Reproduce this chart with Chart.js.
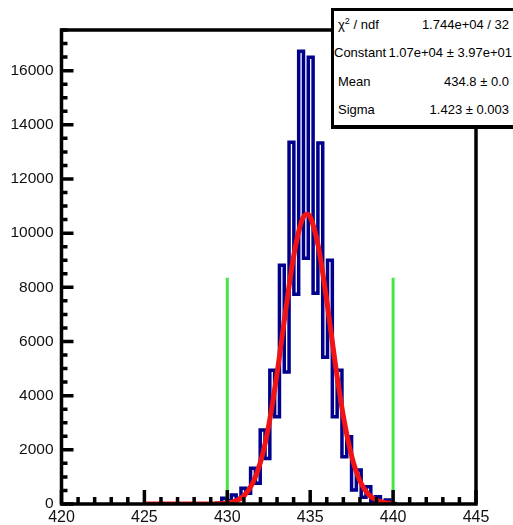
<!DOCTYPE html>
<html>
<head>
<meta charset="utf-8">
<script src="https://cdn.jsdelivr.net/npm/chart.js@4.4.1/dist/chart.umd.min.js"></script>
<style>
html,body{margin:0;padding:0;background:#fff;}
#wrap{position:relative;width:513px;height:525px;overflow:hidden;background:#fff;}
#c{position:absolute;left:0;top:0;}
#stats{position:absolute;left:331px;top:8px;width:192px;height:121px;box-sizing:border-box;border:3px solid #000;border-bottom-width:4px;background:#fff;font-family:"Liberation Sans",Arial,Helvetica,sans-serif;font-size:13px;color:#000;}
.row{position:absolute;left:4px;right:11px;height:20px;line-height:20px;display:flex;justify-content:space-between;white-space:nowrap;}
.row.tight{left:0px;right:8px;}
</style>
</head>
<body>
<div id="wrap">
<canvas id="c" width="513" height="525"></canvas>
<div id="stats"></div>
</div>
<script>
// ---- data ----
const xTickValues = [420, 425, 430, 435, 440, 445];
const yTickValues = [0, 2000, 4000, 6000, 8000, 10000, 12000, 14000, 16000];

// histogram bin centres and contents
const binCenters = [429.23, 429.52, 429.81, 430.10, 430.39, 430.68, 430.97, 431.26, 431.55, 431.84,
  432.13, 432.42, 432.71, 433.00, 433.29, 433.58, 433.87, 434.16, 434.45, 434.74,
  435.03, 435.32, 435.61, 435.90, 436.19, 436.48, 436.77, 437.06, 437.35, 437.64,
  437.93, 438.22, 438.51, 438.80, 439.09, 439.38, 439.67, 439.96, 440.25];
const binCounts = [0, 30, 210, 120, 332, 200, 578, 400, 1316, 763,
  2728, 1684, 4940, 3220, 8811, 4878, 13357, 7740, 16711, 9070,
  16490, 7780, 13330, 5420, 8995, 3220, 4940, 1745, 2482, 516,
  1253, 250, 640, 100, 270, 60, 150, 20, 0];

// gaussian fit curve
const fitX = [425, 426, 427, 428, 428.5, 429, 429.5, 430, 430.5, 431, 431.5, 432, 432.5, 433, 433.5,
  434, 434.5, 434.8, 435, 435.5, 436, 436.5, 437, 437.5, 438, 438.5, 439, 439.5, 440];
const fitY = [0, 0, 0, 0, 1, 3, 10, 40, 110, 300, 730, 1540, 2900, 4810, 7050,
  9140, 10470, 10700, 10600, 9480, 7500, 5240, 3240, 1770, 850, 360, 140, 50, 15];

// green window markers
const markerX = [430, 440];
const markerHeight = [8350, 8350];

// stats box
const statLabels = ['χ<sup style="font-size:9px;line-height:0">2</sup> / ndf', 'Constant', 'Mean', 'Sigma'];
const statValues = ['1.744e+04 / 32', '1.07e+04 ± 3.97e+01', '434.8 ± 0.0', '1.423 ± 0.003'];

// ---- stats box ----
const rowTops = [4, 32, 61, 89];
const stats = document.getElementById('stats');
statLabels.forEach((lab, i) => {
  const r = document.createElement('div');
  r.className = 'row' + (i === 1 ? ' tight' : '');
  r.style.top = rowTops[i] + 'px';
  r.innerHTML = '<span>' + lab + '</span><span>' + statValues[i] + '</span>';
  stats.appendChild(r);
});

// ---- frame / inward ticks plugin ----
const framePlugin = {
  id: 'rootFrame',
  afterDatasetsDraw(chart) {
    const ctx = chart.ctx, a = chart.chartArea, xs = chart.scales.x, ys = chart.scales.y;
    ctx.save();
    ctx.strokeStyle = '#000';
    ctx.lineWidth = 3.5;
    ctx.lineCap = 'butt';
    ctx.beginPath();
    for (let v = 0; v <= ys.max; v += 500) {
      const py = ys.getPixelForValue(v);
      const len = (v % 2000 === 0) ? 12 : 6;
      ctx.moveTo(a.left, py);
      ctx.lineTo(a.left + len, py);
    }
    for (let v = xs.min; v <= xs.max; v += 1) {
      const px = xs.getPixelForValue(v);
      const len = (v % 5 === 0) ? 14 : 7;
      ctx.moveTo(px, a.bottom);
      ctx.lineTo(px, a.bottom - len);
    }
    ctx.stroke();
    ctx.strokeRect(a.left, a.top, a.right - a.left, a.bottom - a.top);
    ctx.restore();
  }
};

const datasets = [
  {
    label: 'hist',
    data: binCenters.map((x, i) => ({x: x, y: binCounts[i]})),
    stepped: 'middle',
    borderColor: '#00008c',
    borderWidth: 3.5,
    pointRadius: 0,
    fill: false,
    order: 3
  },
  {
    label: 'fit',
    data: fitX.map((x, i) => ({x: x, y: fitY[i]})),
    borderColor: '#f01414',
    borderWidth: 5,
    cubicInterpolationMode: 'monotone',
    pointRadius: 0,
    fill: false,
    order: 2
  }
];
markerX.forEach((mx, i) => {
  datasets.push({
    label: 'marker' + i,
    data: [{x: mx, y: 0}, {x: mx, y: markerHeight[i]}],
    borderColor: '#44e644',
    borderWidth: 3,
    pointRadius: 0,
    fill: false,
    order: 1
  });
});

new Chart(document.getElementById('c'), {
  type: 'line',
  data: {datasets: datasets},
  options: {
    responsive: false,
    animation: false,
    devicePixelRatio: 1,
    layout: {padding: {left: 0, right: 37, top: 30, bottom: 0}},
    plugins: {legend: {display: false}, tooltip: {enabled: false}},
    scales: {
      x: {
        type: 'linear',
        min: 420, max: 445,
        afterBuildTicks(s) { s.ticks = xTickValues.map(v => ({value: v})); },
        afterFit(s) { s.height = 21; },
        grid: {display: false, drawTicks: false},
        border: {display: false},
        ticks: {padding: 4, color: '#111', maxRotation: 0,
          callback: v => String(v),
          font: {family: '"Liberation Sans", Arial, sans-serif', size: 16}}
      },
      y: {
        type: 'linear',
        min: 0, max: 17500,
        afterBuildTicks(s) { s.ticks = yTickValues.map(v => ({value: v})); },
        afterFit(s) { s.width = 61.5; },
        grid: {display: false, drawTicks: false},
        border: {display: false},
        ticks: {padding: 8, color: '#111',
          callback: v => String(v),
          font: {family: '"Liberation Sans", Arial, sans-serif', size: 15.5}}
      }
    }
  },
  plugins: [framePlugin]
});
</script>
</body>
</html>
